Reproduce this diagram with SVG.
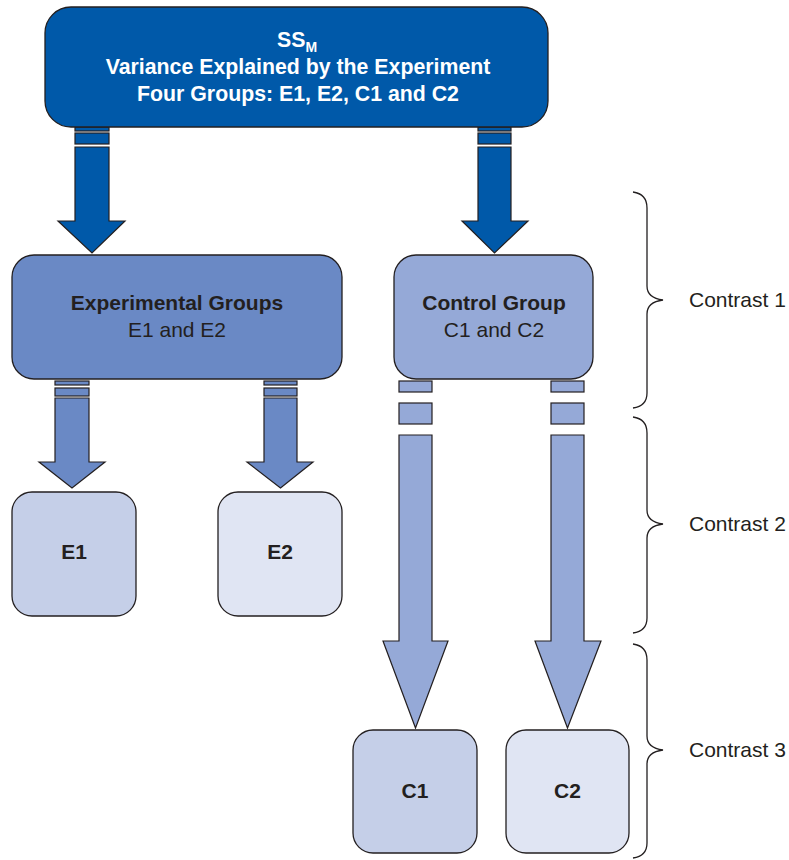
<svg xmlns="http://www.w3.org/2000/svg" width="789" height="860" viewBox="0 0 789 860">
<style>
.box{stroke:#231f20;stroke-width:1.3}
.ar{stroke:#231f20;stroke-width:1.2}
.dk{fill:#0059a9}
.md{fill:#6a89c5}
.lt{fill:#95a9d7}
.t{font-family:"Liberation Sans",Arial,sans-serif;font-size:21px;fill:#231f20;text-anchor:middle}
.b{font-weight:bold}
.w{fill:#ffffff;font-size:21.3px}
.brace{fill:none;stroke:#231f20;stroke-width:1.3}
.lab{font-family:"Liberation Sans",Arial,sans-serif;font-size:21px;fill:#231f20}
</style>
<rect width="789" height="860" fill="#ffffff"/>
<g id="connectors">
  <g class="ar dk">
    <rect x="75" y="127" width="34" height="4"/>
    <rect x="75" y="133" width="34" height="11"/>
    <polygon points="75,147 109,147 109,221 125,221 92,253 58,221 75,221"/>
    <rect x="478" y="127" width="33" height="4"/>
    <rect x="478" y="133" width="33" height="11"/>
    <polygon points="478,147 511,147 511,221 528,221 494.5,253 462,221 478,221"/>
  </g>
  <g class="ar md">
    <rect x="55" y="381" width="34" height="4"/>
    <rect x="55" y="388" width="34" height="8"/>
    <polygon points="55,398 89,398 89,462 105,462 72,488 39,462 55,462"/>
    <rect x="264" y="381" width="33" height="4"/>
    <rect x="264" y="388" width="33" height="8"/>
    <polygon points="264,398 297,398 297,462 313,462 280.5,488 247,462 264,462"/>
  </g>
  <g class="ar lt">
    <rect x="399" y="381" width="33" height="11"/>
    <rect x="399" y="403" width="33" height="21"/>
    <polygon points="399,435 432,435 432,641 448,641 415.5,728 383,641 399,641"/>
    <rect x="551" y="381" width="33" height="11"/>
    <rect x="551" y="403" width="33" height="21"/>
    <polygon points="551,435 584,435 584,641 601,641 567.5,728 535,641 551,641"/>
  </g>
</g>
<g id="ssm">
  <rect class="box dk" x="45" y="7" width="503" height="120" rx="26"/>
  <text class="t b w" x="297" y="47"><tspan>SS</tspan><tspan font-size="14" dy="5">M</tspan></text>
  <text class="t b w" x="298" y="74">Variance Explained by the Experiment</text>
  <text class="t b w" x="298" y="101">Four Groups: E1, E2, C1 and C2</text>
</g>
<g id="experimental">
  <rect class="box md" x="12" y="255" width="330" height="124" rx="22"/>
  <text class="t b" x="177" y="310">Experimental Groups</text>
  <text class="t" x="177" y="337">E1 and E2</text>
</g>
<g id="control">
  <rect class="box lt" x="394" y="255" width="199" height="124" rx="22"/>
  <text class="t b" x="494" y="310">Control Group</text>
  <text class="t" x="494" y="337">C1 and C2</text>
</g>
<g id="e1">
  <rect class="box" fill="#c5cfe8" x="12" y="492" width="124" height="124" rx="20"/>
  <text class="t b" x="74" y="559">E1</text>
</g>
<g id="e2">
  <rect class="box" fill="#e0e5f3" x="218" y="492" width="124" height="124" rx="20"/>
  <text class="t b" x="280" y="559">E2</text>
</g>
<g id="c1">
  <rect class="box" fill="#c5cfe8" x="353" y="730" width="124" height="123" rx="20"/>
  <text class="t b" x="415" y="798">C1</text>
</g>
<g id="c2">
  <rect class="box" fill="#e0e5f3" x="506" y="730" width="123" height="123" rx="20"/>
  <text class="t b" x="567.5" y="798">C2</text>
</g>
<g id="contrast1">
  <path class="brace" d="M633,192 Q647,194 647,208 L647,286 Q647,298 663,300 Q647,302 647,314 L647,393 Q647,406 633,408"/>
  <text class="lab" x="689" y="307">Contrast 1</text>
</g>
<g id="contrast2">
  <path class="brace" d="M633,417 Q647,419 647,433 L647,510 Q647,522 663,524 Q647,526 647,538 L647,618 Q647,631 633,633"/>
  <text class="lab" x="689" y="531">Contrast 2</text>
</g>
<g id="contrast3">
  <path class="brace" d="M633,644 Q647,646 647,660 L647,736 Q647,748 663,750 Q647,752 647,764 L647,843 Q647,856 633,858"/>
  <text class="lab" x="689" y="757">Contrast 3</text>
</g>
</svg>
